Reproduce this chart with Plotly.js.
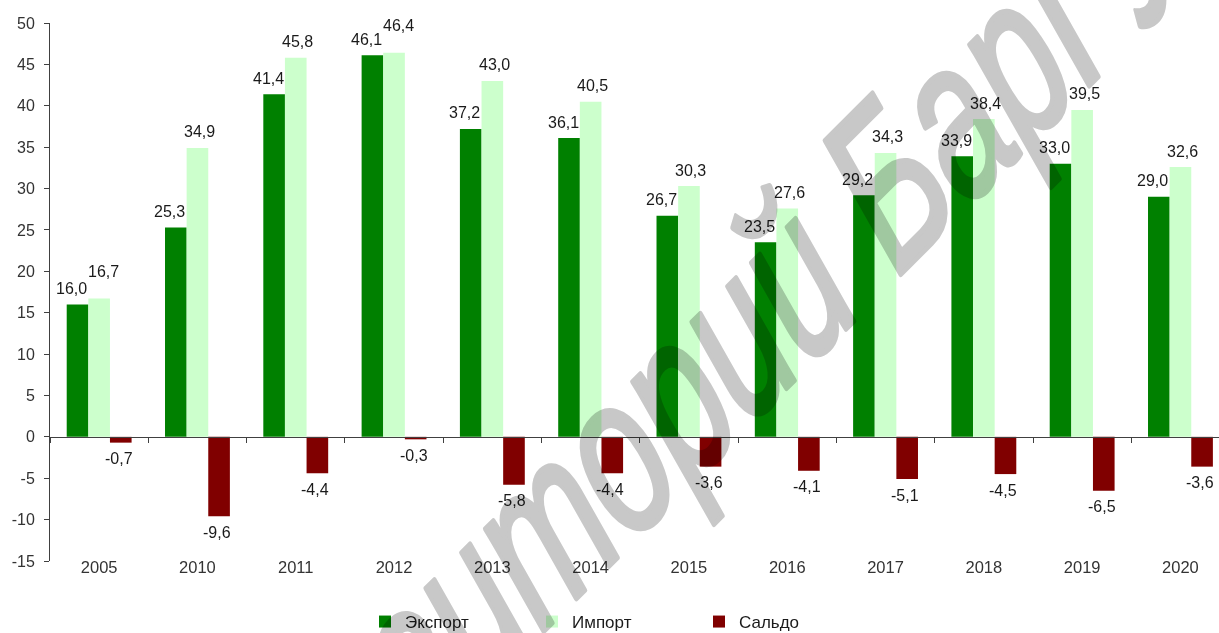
<!DOCTYPE html>
<html>
<head>
<meta charset="utf-8">
<script src="https://cdn.plot.ly/plotly-3.0.1.min.js"></script>
<style>
html,body{margin:0;padding:0;background:#fff;}
#chart{width:1219px;height:633px;}
.infolayer .annotation.wm text{mix-blend-mode:multiply;stroke:#c8c8c8;stroke-width:4px;stroke-linejoin:round;}
</style>
</head>
<body>
<div id="chart"></div>
<script>
var years = ['2005','2010','2011','2012','2013','2014','2015','2016','2017','2018','2019','2020'];
var exportVals = [16.0, 25.3, 41.4, 46.1, 37.2, 36.1, 26.7, 23.5, 29.2, 33.9, 33.0, 29.0];
var importVals = [16.7, 34.9, 45.8, 46.4, 43.0, 40.5, 30.3, 27.6, 34.3, 38.4, 39.5, 32.6];
var saldoVals  = [-0.7, -9.6, -4.4, -0.3, -5.8, -4.4, -3.6, -4.1, -5.1, -4.5, -6.5, -3.6];
var seriesNames = ['Экспорт', 'Импорт', 'Сальдо'];
var yTickVals = [-15, -10, -5, 0, 5, 10, 15, 20, 25, 30, 35, 40, 45, 50];
var yTickText = ['-15', '-10', '-5', '0', '5', '10', '15', '20', '25', '30', '35', '40', '45', '50'];
var watermark = 'Репозиторий БарГУ';

var yMin = -15, yMax = 50;
var W = 1219, H = 633;
var mL = 50, mR = 0, mT = 23, mB = 72;
var FAM = 'Arial, "Liberation Sans", sans-serif';
var labelFont = {family: FAM, size: 16, color: '#1a1a1a'};
var bargap = 0.34;
var colors = ['#008000', '#CCFFCC', '#800000'];

var plotW = W - mL - mR, plotH = H - mT - mB;
var catPx = 98.3;
var xEnd = -0.5 + plotW / catPx;
var pxPerUnit = plotH / (yMax - yMin);
var barW = (1 - bargap) / 3 * catPx;
var zeroPos = (0 - yMin) / (yMax - yMin);

function barTrace(name, vals, color) {
  return {
    type: 'bar', name: name, x: years, y: vals,
    marker: {color: color, line: {width: 0}},
    hoverinfo: 'skip'
  };
}
var data = [
  barTrace(seriesNames[0], exportVals, colors[0]),
  barTrace(seriesNames[1], importVals, colors[1]),
  barTrace(seriesNames[2], saldoVals, colors[2])
];

function fmt(v) { return v.toFixed(1).replace('.', ','); }

var annotations = [];
years.forEach(function(yr, i) {
  var gapE = 16, gapI = 16, shI = 2;
  // raise import label when it would collide with export label
  var dy = (importVals[i] - exportVals[i]) * pxPerUnit;
  if (Math.abs(dy) < 16) { gapI = 27; shI = 4; }
  annotations.push({x: i, y: exportVals[i], text: fmt(exportVals[i]), showarrow: false,
    xanchor: 'center', yanchor: 'middle', xshift: -barW - 6, yshift: gapE, font: labelFont});
  annotations.push({x: i, y: importVals[i], text: fmt(importVals[i]), showarrow: false,
    xanchor: 'center', yanchor: 'middle', xshift: shI, yshift: gapI, font: labelFont});
  annotations.push({x: i, y: saldoVals[i], text: fmt(saldoVals[i]), showarrow: false,
    xanchor: 'center', yanchor: 'middle', xshift: barW - 2, yshift: -16, font: labelFont});
});

annotations.push({
  text: watermark, xref: 'paper', yref: 'paper',
  x: (658 - mL) / plotW, y: (H - mB - 412) / plotH,
  xanchor: 'center', yanchor: 'middle', showarrow: false,
  textangle: -45,
  font: {family: '"Liberation Sans", Arial, sans-serif', size: 168, color: '#c8c8c8', style: 'italic'},
  captureevents: false, name: 'wm'
});

var layout = {
  width: W, height: H,
  margin: {l: mL, r: mR, t: mT, b: mB, pad: 0},
  paper_bgcolor: '#ffffff', plot_bgcolor: '#ffffff',
  separators: ', ',
  barmode: 'group', bargap: bargap, bargroupgap: 0,
  font: {family: FAM, size: 15, color: '#333333'},
  showlegend: true,
  legend: {
    orientation: 'h', xref: 'container', yref: 'container',
    x: 365 / W, xanchor: 'left', y: 1 - 622 / H, yanchor: 'middle',
    entrywidth: 122, entrywidthmode: 'pixels',
    font: {family: FAM, size: 17, color: '#1a1a1a'},
    itemwidth: 30, traceorder: 'normal'
  },
  xaxis: {
    type: 'category', range: [-0.5, xEnd],
    anchor: 'free', position: zeroPos,
    showline: true, linecolor: '#404040', linewidth: 1,
    ticks: 'outside', tickson: 'boundaries', ticklen: 5, tickcolor: '#404040',
    showgrid: false, zeroline: false,
    tickfont: {family: FAM, size: 16.5, color: '#333333'},
    ticklabelstandoff: 115
  },
  yaxis: {
    range: [yMin, yMax], tickmode: 'array', tickvals: yTickVals, ticktext: yTickText,
    showline: true, linecolor: '#404040', linewidth: 1,
    ticks: 'outside', ticklen: 5, tickcolor: '#404040',
    showgrid: false, zeroline: false, ticklabelstandoff: 6,
    tickfont: {family: FAM, size: 16, color: '#333333'}
  },
  annotations: annotations
};

Plotly.newPlot('chart', data, layout, {displayModeBar: false, staticPlot: true}).then(function(){
  var anns = document.querySelectorAll('.infolayer .annotation');
  var a = anns[anns.length - 1];
  a.classList.add('wm');
  var t = a.querySelector('text.annotation-text');
  if (t) {
    var bb = t.getBBox();
    var cx = bb.x + bb.width / 2, cy = bb.y + bb.height / 2;
    t.setAttribute('transform', 'translate(' + cx + ',' + cy + ') skewX(-8) scale(0.9,1.28) translate(' + (-cx) + ',' + (-cy) + ')');
  }
});
</script>
</body>
</html>
